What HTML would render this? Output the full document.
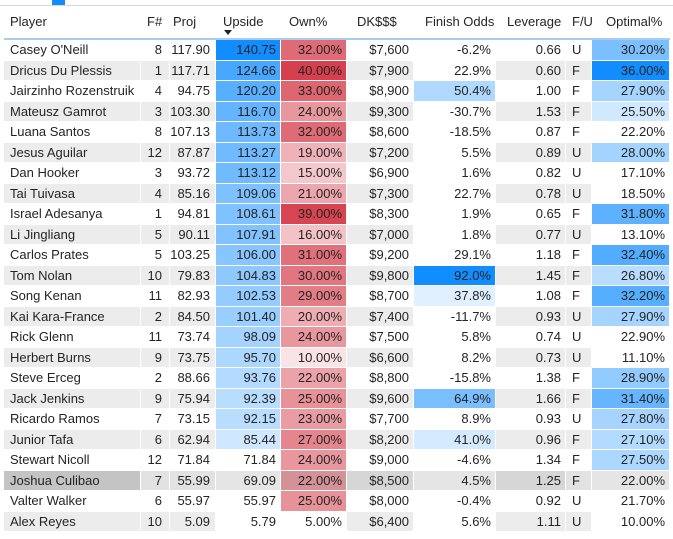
<!DOCTYPE html>
<html><head><meta charset="utf-8">
<style>
html,body{margin:0;padding:0;background:#fff;width:673px;height:539px;overflow:hidden;font-family:"Liberation Sans",sans-serif;}
#wrap{position:relative;width:673px;height:539px;}
.hdr{position:absolute;top:14px;font-size:13px;color:#252423;}
.cell{position:absolute;height:19.5px;line-height:20px;font-size:13px;color:#252423;box-sizing:border-box;white-space:nowrap;overflow:hidden;}
.r{text-align:right;padding-right:4px;}
.l{text-align:left;padding-left:6px;}
</style></head>
<body>
<div id="wrap">
  <div style="position:absolute;left:0;top:5px;width:673px;height:1px;background:#d8d8d8"></div>
  <div style="position:absolute;left:52px;top:0;width:13px;height:5px;background:#118dff"></div>
  <div style="position:absolute;left:4px;top:38px;width:666px;height:2px;background:#a9cdf0"></div>
  <div class="hdr" style="left:10px">Player</div>
  <div class="hdr" style="left:147px">F#</div>
  <div class="hdr" style="left:173px">Proj</div>
  <div class="hdr" style="left:223px">Upside</div>
  <div style="position:absolute;left:224px;top:30px;width:0;height:0;border-left:4px solid transparent;border-right:4px solid transparent;border-top:5px solid #252423"></div>
  <div class="hdr" style="left:289px">Own%</div>
  <div class="hdr" style="left:357px">DK$$$</div>
  <div class="hdr" style="left:425px">Finish Odds</div>
  <div class="hdr" style="left:507px">Leverage</div>
  <div class="hdr" style="left:572px">F/U</div>
  <div class="hdr" style="left:606px">Optimal%</div>
  <div id="rows"></div>
</div>
<script>
const players=["Casey O'Neill","Dricus Du Plessis","Jairzinho Rozenstruik","Mateusz Gamrot","Luana Santos","Jesus Aguilar","Dan Hooker","Tai Tuivasa","Israel Adesanya","Li Jingliang","Carlos Prates","Tom Nolan","Song Kenan","Kai Kara-France","Rick Glenn","Herbert Burns","Steve Erceg","Jack Jenkins","Ricardo Ramos","Junior Tafa","Stewart Nicoll","Joshua Culibao","Valter Walker","Alex Reyes"];
const fights=[8,1,4,3,8,12,3,4,1,5,5,10,11,2,11,9,2,9,7,6,12,7,6,10];
const proj=[117.90,117.71,94.75,103.30,107.13,87.87,93.72,85.16,94.81,90.11,103.25,79.83,82.93,84.50,73.74,73.75,88.66,75.94,73.15,62.94,71.84,55.99,55.97,5.09];
const upside=[140.75,124.66,120.20,116.70,113.73,113.27,113.12,109.06,108.61,107.91,106.00,104.83,102.53,101.40,98.09,95.70,93.76,92.39,92.15,85.44,71.84,69.09,55.97,5.79];
const own=[32,40,33,24,32,19,15,21,39,16,31,30,29,20,24,10,22,25,23,27,24,22,25,5];
const salary=[7600,7900,8900,9300,8600,7200,6900,7300,8300,7000,9200,9800,8700,7400,7500,6600,8800,9600,7700,8200,9000,8500,8000,6400];
const finish=[-6.2,22.9,50.4,-30.7,-18.5,5.5,1.6,22.7,1.9,1.8,29.1,92.0,37.8,-11.7,5.8,8.2,-15.8,64.9,8.9,41.0,-4.6,4.5,-0.4,5.6];
const leverage=[0.66,0.60,1.00,1.53,0.87,0.89,0.82,0.78,0.65,0.77,1.18,1.45,1.08,0.93,0.74,0.73,1.38,1.66,0.93,0.96,1.34,1.25,0.92,1.11];
const fu=["U","F","F","F","F","U","U","U","F","U","F","F","F","U","U","U","F","F","U","F","F","F","U","U"];
const optimal=[30.2,36.0,27.9,25.5,22.2,28.0,17.1,18.5,31.8,13.1,32.4,26.8,32.2,27.9,22.9,11.1,28.9,31.4,27.8,27.1,27.5,22.0,21.7,10.0];
const selectedRow=21;

function mix(c,t,dark){t=Math.max(0,Math.min(1,t));let r=255+(c[0]-255)*t,g=255+(c[1]-255)*t,b=255+(c[2]-255)*t;
 if(dark){r*=0.9;g*=0.9;b*=0.9;}return `rgb(${r|0},${g|0},${b|0})`;}
const BLUE=[17,141,255],RED=[214,64,78];
const cols=[
 {x:4,w:137,cls:'l',name:'player-cell',pr:4},
 {x:141,w:29,cls:'r',name:'fight-cell',pr:7},
 {x:170,w:46,cls:'r',name:'proj-cell',pr:5},
 {x:216,w:65,cls:'r',name:'upside-cell',pr:4},
 {x:281,w:66,cls:'r',name:'own-cell',pr:4},
 {x:347,w:67,cls:'r',name:'salary-cell',pr:4},
 {x:414,w:82,cls:'r',name:'finish-odds-cell',pr:4},
 {x:496,w:70,cls:'r',name:'leverage-cell',pr:4},
 {x:566,w:26,cls:'l',name:'fu-cell',pr:0},
 {x:592,w:78,cls:'r',name:'optimal-cell',pr:4}];
const rowsEl=document.getElementById('rows');
for(let i=0;i<players.length;i++){
 const sel=i===selectedRow;
 const stripe=sel?'#e2e2e2':(i%2?'#ececec':'#ffffff');
 const texts=[players[i],String(fights[i]),proj[i].toFixed(2),upside[i].toFixed(2),own[i].toFixed(2)+'%','$'+salary[i].toLocaleString('en-US'),finish[i].toFixed(1)+'%',leverage[i].toFixed(2),fu[i],optimal[i].toFixed(2)+'%'];
 const bgs=[sel?'#c4c4c4':stripe,stripe,stripe,
  mix(BLUE,(upside[i]-72)/(140.75-72),sel),
  mix(RED,(own[i]-5)/35,sel),
  sel?'#d6d6d6':stripe,
  mix(BLUE,(finish[i]-30)/62,sel),
  sel?'#d6d6d6':stripe,stripe,
  mix(BLUE,(optimal[i]-23)/13,sel)];
 const y=40+i*20.5;
 for(let c=0;c<cols.length;c++){
  const d=document.createElement('div');
  d.className='cell '+cols[c].cls;
  d.style.left=cols[c].x+'px';d.style.top=y+'px';d.style.width=(cols[c].w-1)+'px';
  if(cols[c].cls==='r')d.style.paddingRight=cols[c].pr+'px';
  d.style.background=bgs[c];
  d.textContent=texts[c];
  
  
  rowsEl.appendChild(d);
 }
}
</script>
</body></html>
